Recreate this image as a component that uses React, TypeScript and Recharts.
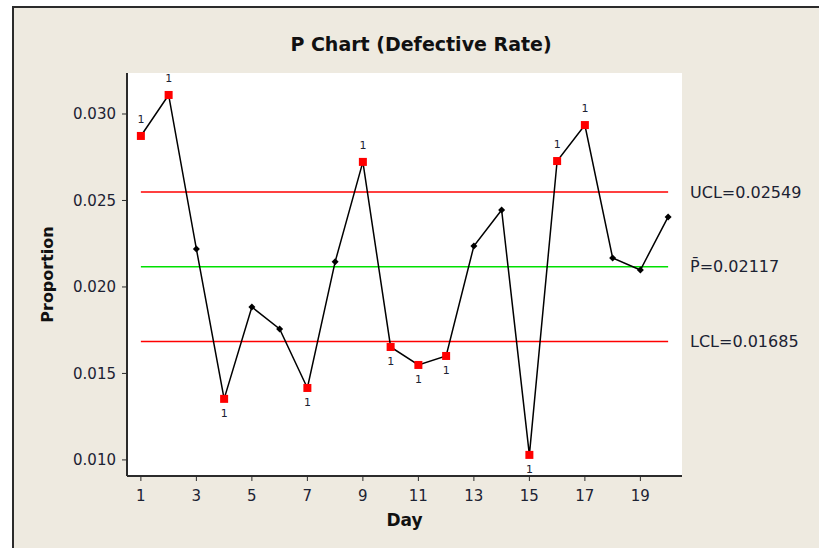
import React from "react";
import {
  LineChart,
  Line,
  XAxis,
  YAxis,
  CartesianGrid,
  ReferenceLine,
} from "recharts";

// P chart data
const days = [1, 2, 3, 4, 5, 6, 7, 8, 9, 10, 11, 12, 13, 14, 15, 16, 17, 18, 19, 20];
const proportions = [
  0.02873, 0.0311, 0.0222, 0.01353, 0.01884, 0.01757, 0.01416, 0.02145, 0.02723, 0.01653,
  0.01549, 0.01601, 0.02237, 0.02445, 0.01029, 0.02728, 0.02936, 0.02168, 0.02098, 0.02405,
];
const UCL = 0.02549;
const PBAR = 0.02117;
const LCL = 0.01685;
const xTicks = [1, 3, 5, 7, 9, 11, 13, 15, 17, 19];
const yTicks = [0.01, 0.015, 0.02, 0.025, 0.03];

const FONT = "'DejaVu Sans', sans-serif";
const TEXT = "#1c2233";

const rows = days.map((d, i) => ({
  day: d,
  p: proportions[i],
  ucl: UCL,
  center: PBAR,
  lcl: LCL,
}));

const renderDot = (props: any) => {
  const { cx, cy, payload, index } = props;
  const above = payload.p > UCL;
  const below = payload.p < LCL;
  if (above || below) {
    return (
      <g key={`dot-${index}`}>
        <rect x={cx - 4} y={cy - 4} width={8} height={8} fill="#ff0000" />
        <text
          x={cx}
          y={above ? cy - 13 : cy + 18}
          textAnchor="middle"
          fontSize={11}
          fontFamily={FONT}
          fill={TEXT}
        >
          1
        </text>
      </g>
    );
  }
  // small black diamond for in-control points
  return (
    <path
      key={`dot-${index}`}
      d={`M${cx},${cy - 3.5} L${cx + 3.5},${cy} L${cx},${cy + 3.5} L${cx - 3.5},${cy} Z`}
      fill="#000"
    />
  );
};

const App: React.FC = () => {
  return (
    <div
      style={{
        position: "absolute",
        left: 0,
        top: 0,
        width: 819,
        height: 548,
        overflow: "hidden",
        background: "#fff",
      }}
    >
      <div
        style={{
          position: "absolute",
          left: 12,
          top: 6,
          width: 840,
          height: 580,
          border: "2px solid #2b2b2b",
          background: "#eeeae0",
        }}
      />
      <div
        style={{
          position: "absolute",
          left: 421,
          top: 33,
          transform: "translateX(-50%)",
          whiteSpace: "nowrap",
          fontFamily: FONT,
          fontWeight: "bold",
          fontSize: 19,
          color: "#111",
        }}
      >
        P Chart (Defective Rate)
      </div>
      <div style={{ position: "absolute", left: 0, top: 0 }}>
        <LineChart
          width={819}
          height={548}
          data={rows}
          margin={{ top: 73, right: 137, left: 67, bottom: 42 }}
        >
          <CartesianGrid fill="#ffffff" horizontal={false} vertical={false} />
          <XAxis
            dataKey="day"
            type="number"
            domain={[0.5, 20.5]}
            ticks={xTicks}
            interval={0}
            height={30}
            tickSize={5}
            tickMargin={9}
            stroke="#2b2b2b"
            axisLine={{ stroke: "#2b2b2b", strokeWidth: 2 }}
            tick={{ fill: TEXT, fontSize: 15, fontFamily: FONT }}
            label={{
              value: "Day",
              position: "bottom",
              offset: 8,
              style: { fill: "#111", fontSize: 17, fontWeight: "bold", fontFamily: FONT },
            }}
          />
          <XAxis
            xAxisId="top"
            orientation="top"
            dataKey="day"
            type="number"
            domain={[0.5, 20.5]}
            height={0}
            tick={false}
            tickLine={false}
            axisLine={{ stroke: "#2b2b2b", strokeWidth: 2 }}
          />
          <YAxis
            type="number"
            domain={[0.00907, 0.03237]}
            ticks={yTicks}
            width={60}
            tickSize={5}
            tickMargin={6}
            stroke="#2b2b2b"
            axisLine={{ stroke: "#2b2b2b", strokeWidth: 2 }}
            tickFormatter={(v: number) => v.toFixed(3)}
            tick={{ fill: TEXT, fontSize: 15, fontFamily: FONT }}
            label={{
              value: "Proportion",
              angle: -90,
              position: "left",
              offset: 20,
              style: { fill: "#111", fontSize: 16, fontWeight: "bold", fontFamily: FONT, textAnchor: "middle" },
            }}
          />
          <YAxis
            yAxisId="right"
            orientation="right"
            type="number"
            domain={[0.00907, 0.03237]}
            width={0}
            tick={false}
            tickLine={false}
            axisLine={{ stroke: "#2b2b2b", strokeWidth: 2 }}
          />

          {/* control limits */}
          <Line dataKey="ucl" stroke="#ff0000" strokeWidth={1.5} dot={false} activeDot={false} isAnimationActive={false} />
          <Line dataKey="center" stroke="#00e000" strokeWidth={1.5} dot={false} activeDot={false} isAnimationActive={false} />
          <Line dataKey="lcl" stroke="#ff0000" strokeWidth={1.5} dot={false} activeDot={false} isAnimationActive={false} />

          {/* limit labels to the right of the plot */}
          <ReferenceLine
            y={UCL}
            stroke="none"
            strokeOpacity={0}
            label={{ value: `UCL=${UCL.toFixed(5)}`, position: "right", offset: 8, style: { fill: TEXT, fontSize: 16, fontFamily: FONT } }}
          />
          <ReferenceLine
            y={PBAR}
            stroke="none"
            strokeOpacity={0}
            label={{ value: `P\u0304=${PBAR.toFixed(5)}`, position: "right", offset: 8, style: { fill: TEXT, fontSize: 16, fontFamily: FONT } }}
          />
          <ReferenceLine
            y={LCL}
            stroke="none"
            strokeOpacity={0}
            label={{ value: `LCL=${LCL.toFixed(5)}`, position: "right", offset: 8, style: { fill: TEXT, fontSize: 16, fontFamily: FONT } }}
          />

          {/* defective proportion */}
          <Line
            dataKey="p"
            stroke="#000"
            strokeWidth={1.5}
            dot={renderDot}
            activeDot={false}
            isAnimationActive={false}
          />
        </LineChart>
      </div>
    </div>
  );
};

export default App;
